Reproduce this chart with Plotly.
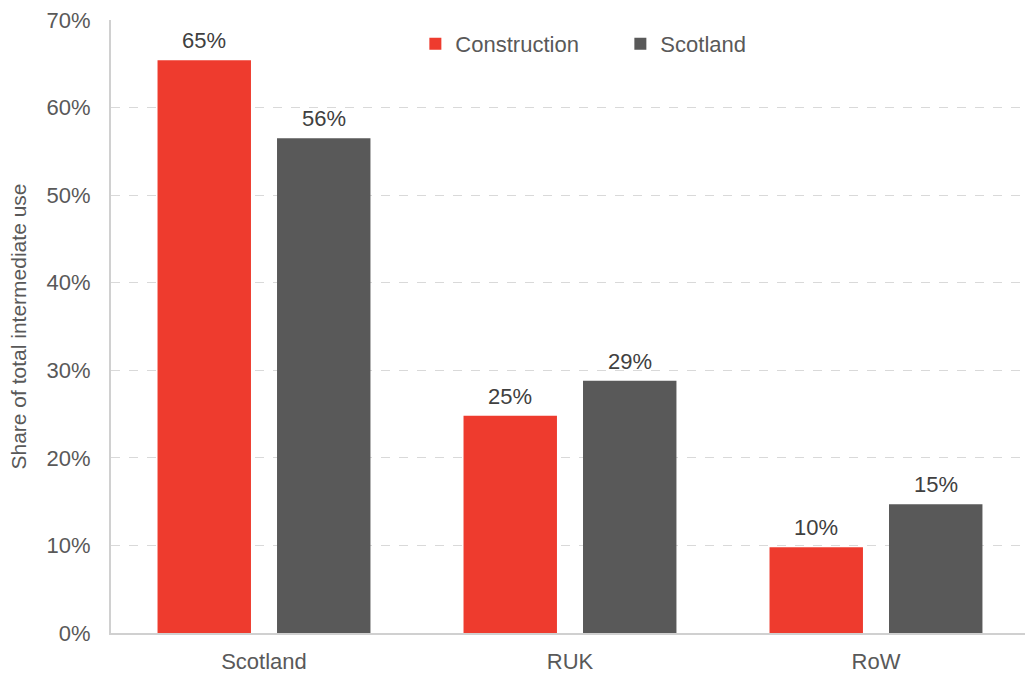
import plotly.graph_objects as go

regions = ["Scotland", "RUK", "RoW"]
construction = [0.654, 0.248, 0.098]
scotland = [0.565, 0.288, 0.147]
y_ticks = [0, 0.1, 0.2, 0.3, 0.4, 0.5, 0.6, 0.7]
y_tick_labels = ["0%", "10%", "20%", "30%", "40%", "50%", "60%", "70%"]

RED = "#EE3B2E"
GREY = "#595959"
FONT = "Liberation Sans, Arial, sans-serif"

BARGAP = 0.219
GROUPGAP = 0.218
series = [("Construction", construction, RED), ("Scotland", scotland, GREY)]

fig = go.Figure()
for name, vals, col in series:
    fig.add_trace(go.Bar(
        x=regions, y=vals, name=name,
        marker=dict(color=col, line=dict(width=0)),
    ))

# Value labels above each bar, offset sideways to sit over their bar in the group
plot_w = 1025 - 111
x_range = [-0.5, 2.487]
cat_px = plot_w / (x_range[1] - x_range[0])
slot_px = cat_px * (1 - BARGAP) / len(series)
for i, (name, vals, col) in enumerate(series):
    shift = (i - (len(series) - 1) / 2) * slot_px
    for r, v in zip(regions, vals):
        fig.add_annotation(
            x=r, y=v, xref="x", yref="y", text=f"{v:.0%}",
            showarrow=False, yanchor="bottom", xshift=shift, yshift=5,
            font=dict(family=FONT, size=22, color="#404040"),
        )

fig.update_layout(
    width=1025, height=675,
    margin=dict(l=111, r=0, t=20, b=42),
    paper_bgcolor="white", plot_bgcolor="white",
    barmode="group", bargap=BARGAP, bargroupgap=GROUPGAP,
    font=dict(family=FONT, color=GREY),
    legend=dict(
        orientation="h", x=0.333, y=0.961, xanchor="left", yanchor="middle",
        font=dict(family=FONT, size=22, color=GREY),
        traceorder="normal", entrywidth=160,
    ),
    xaxis=dict(
        range=x_range,
        showline=True, linecolor="#D0D0D0", linewidth=2,
        tickfont=dict(family=FONT, size=22, color=GREY),
        ticks="", showgrid=False, ticklabelstandoff=8,
    ),
    yaxis=dict(
        range=[0, 0.7], tickvals=y_ticks, ticktext=y_tick_labels,
        showline=True, linecolor="#D0D0D0", linewidth=2,
        showgrid=True, gridcolor="#D9D9D9", griddash="dash", gridwidth=1,
        tickfont=dict(family=FONT, size=22, color=GREY),
        ticks="", ticklabelstandoff=14,
        title=dict(text="Share of total intermediate use",
                   font=dict(family=FONT, size=21, color=GREY), standoff=14),
        zeroline=False,
    ),
)

fig.write_html("out.html")
